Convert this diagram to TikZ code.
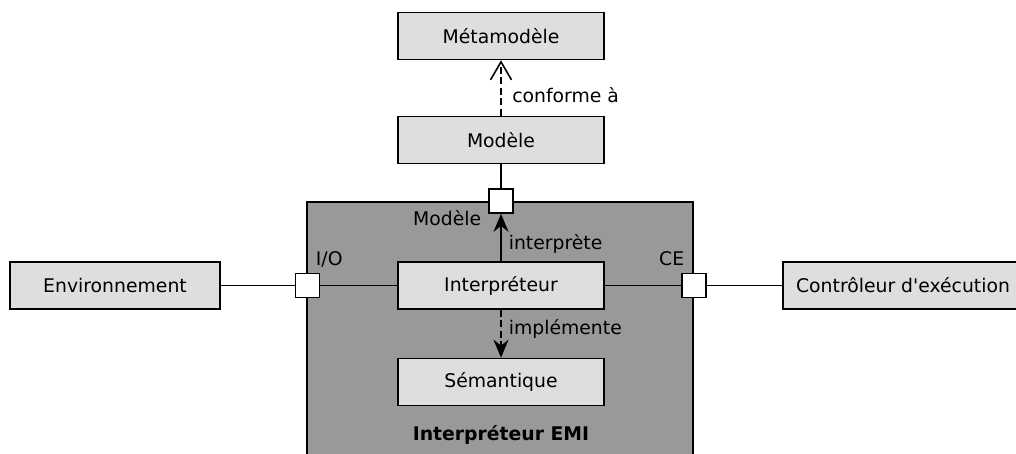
\documentclass[tikz,border=0pt]{standalone}
\usepackage{fontspec}
\setmainfont{DejaVu Sans}
\usetikzlibrary{arrows.meta,positioning}

\begin{document}
\begin{tikzpicture}[x=0.02cm, y=-0.02cm, font=\fontsize{10.7}{13}\selectfont]
	\tikzset{
		mybox/.style={rectangle, draw=black, fill=black!13, line width=0.9pt, minimum width=4.12cm, minimum height=0.94cm, inner sep=0pt, text centered},
		mycontainer/.style={rectangle, draw=black, fill=black!40, line width=0.9pt, minimum width=7.72cm, minimum height=5.36cm, inner sep=0pt},
		myport/.style={rectangle, draw=black, fill=white, line width=0.9pt, minimum size=0.48cm, inner sep=0pt},
		myline/.style={line width=0.9pt},
		myarrow/.style={-{Stealth[length=0.36cm, width=0.3cm]}, line width=0.9pt},
		myarrow1/.style={-{Stealth[length=0.36cm, width=0.3cm]}, dash pattern=on 4pt off 2pt, line width=0.9pt},
		myarrow2/.style={-{Straight Barb[length=0.36cm, width=0.42cm]}, dash pattern=on 4pt off 2pt, line width=0.9pt},
		mylabel/.style={inner sep=2pt}
	}
	\useasboundingbox (0,0) rectangle (1016,453);
	\clip (0,0) rectangle (1016,453);

	\node[mycontainer] (emi) at (500,336) {};
	\node[font=\fontsize{10.7}{13}\selectfont\bfseries] (emiLabel) at (501,435) {Interpréteur EMI};

	\node[mybox] (metamodele) at (501,36) {Métamodèle};
	\node[mybox] (modele) at (501,140) {Modèle};
	\node[mybox] (interp) at (501,285.5) {Interpréteur};
	\node[mybox] (semantique) at (501,382) {Sémantique};
	\node[mybox, minimum width=4.2cm] (env) at (115,285.5) {Environnement};
	\node[mybox, minimum width=4.8cm] (ctrl) at (903,285.5) {Contrôleur d\textquotesingle exécution};

	\node[myport] (pModele) at (501,201) {};
	\node[myport] (pIO) at (307.5,285.5) {};
	\node[myport] (pCE) at (694,285.5) {};

	\node[mylabel, anchor=east] (lModele) at (485,218) {Modèle};
	\node[mylabel, anchor=west] (lIO) at (312,259) {I/O};
	\node[mylabel, anchor=east] (lCE) at (688,259) {CE};

	\draw[myarrow2] (modele.north) -- (metamodele.south) node [pos=0.38, right, mylabel, xshift=4pt] {conforme à};
	\draw[myline] (modele.south) -- (pModele.north);
	\draw[myarrow] (interp.north) -- (pModele.south) node [pos=0.37, right, mylabel, xshift=2pt] {interprète};
	\draw[myarrow1] (interp.south) -- (semantique.north) node [pos=0.39, right, mylabel, xshift=2pt] {implémente};
	\draw[myline] (env.east) -- (pIO.west);
	\draw[myline] (pIO.east) -- (interp.west);
	\draw[myline] (interp.east) -- (pCE.west);
	\draw[myline] (pCE.east) -- (ctrl.west);
\end{tikzpicture}
\end{document}
